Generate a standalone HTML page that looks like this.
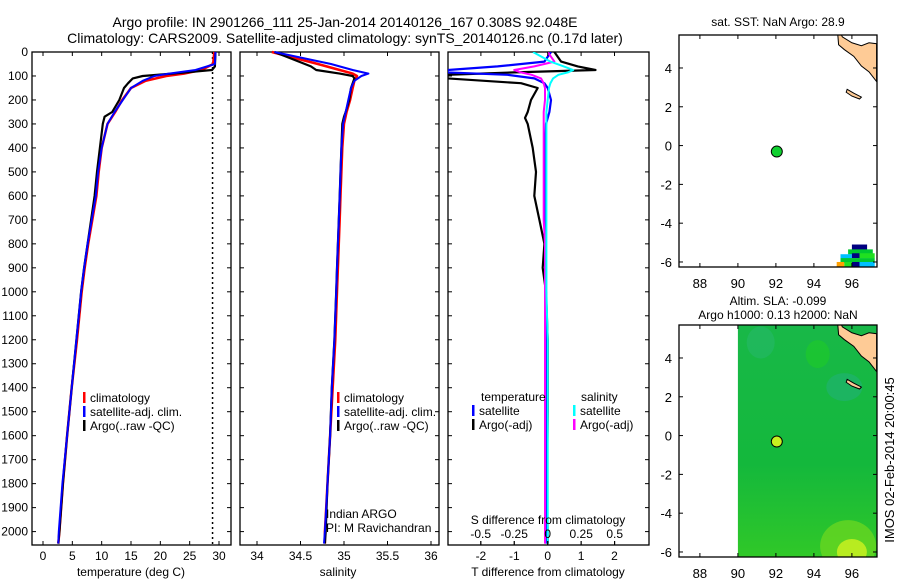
<!DOCTYPE html>
<html><head><meta charset="utf-8">
<style>
body{margin:0;background:#fff;}
svg{display:block;font-family:"Liberation Sans",sans-serif;}
text{fill:#000;}
</style></head>
<body>
<svg id="c" width="900" height="580" xmlns="http://www.w3.org/2000/svg">
<text x="345" y="27" font-size="14" text-anchor="middle">Argo profile: IN 2901266_111 25-Jan-2014 20140126_167 0.308S 92.048E</text>
<text x="345" y="43" font-size="14" text-anchor="middle">Climatology: CARS2009. Satellite-adjusted climatology: synTS_20140126.nc (0.17d later)</text>
<text transform="translate(894,460) rotate(-90)" font-size="13" text-anchor="middle">IMOS 02-Feb-2014 20:00:45</text>
</svg>
<script>
// ---- data ----
const depthsClim=[0,50,75,90,100,120,150,200,250,300,400,500,600,700,800,900,1000,1200,1400,1600,1800,2000,2050];
const tempClim=[29.2,29.0,27.0,24.0,21.0,17.5,15.0,13.5,12.3,11.0,10.0,9.5,9.1,8.4,7.7,7.1,6.6,5.8,4.9,4.1,3.4,2.8,2.6];
const tempSat=[29.4,29.3,26.0,21.5,19.0,17.0,15.0,13.6,12.2,11.0,10.0,9.4,9.0,8.3,7.6,7.0,6.5,5.7,4.9,4.1,3.3,2.7,2.6];
const depthsArgo=[0,60,75,90,100,110,130,150,200,250,270,300,400,500,600,700,800,900,1000,1200,1400,1600,1800,2000,2050];
const tempArgo=[29.4,29.3,28.8,22.0,17.0,15.3,14.5,13.8,13.0,11.8,10.5,10.2,9.7,9.2,8.8,8.2,7.6,7.0,6.5,5.7,4.9,4.1,3.4,2.8,2.6];
const salClim=[34.17,34.7,34.95,35.1,35.15,35.12,35.1,35.07,35.03,35.0,34.98,34.97,34.96,34.95,34.94,34.93,34.92,34.9,34.87,34.84,34.81,34.78,34.78];
const salSat=[34.2,34.85,35.1,35.28,35.2,35.12,35.08,35.05,35.02,34.99,34.97,34.96,34.95,34.94,34.93,34.92,34.91,34.89,34.86,34.84,34.81,34.78,34.77];
const salArgo=[34.2,34.62,34.68,34.95,35.1,35.12,35.1,35.08,35.06,35.02,35.0,34.98,34.97,34.96,34.95,34.94,34.93,34.92,34.91,34.89,34.86,34.84,34.81,34.79,34.78];
const depthsDiff=[0,40,60,75,85,95,110,130,150,200,250,275,300,400,500,600,700,800,900,1000,1200,1500,1800,2050];
const tDiffSat=[0.1,-0.1,-1.5,-3.0,-3.0,-1.2,-0.4,-0.1,0.0,0.1,0.05,0.0,-0.05,-0.08,-0.1,-0.1,-0.08,-0.07,-0.05,-0.05,-0.05,-0.05,-0.05,-0.05];
const tDiffArgo=[0.2,0.4,0.9,1.43,-1.0,-3.0,-3.0,-0.8,-0.3,-0.5,-0.6,-0.68,-0.6,-0.45,-0.35,-0.4,-0.25,-0.1,-0.15,-0.05,0.0,0.0,-0.02,0.0];
const sDiffSat=[-0.11,0.02,0.12,0.19,0.15,0.08,0.04,0.02,0.01,0.0,-0.01,-0.01,-0.01,-0.01,-0.01,-0.01,-0.01,-0.01,-0.01,-0.01,0.0,0.0,0.0,0.0];
const sDiffArgo=[0.0,0.05,-0.1,-0.25,-0.2,-0.12,-0.05,-0.03,-0.02,-0.02,-0.03,-0.03,-0.03,-0.03,-0.03,-0.03,-0.03,-0.02,-0.02,-0.02,-0.02,-0.02,-0.02,-0.02];
const depthTicks=[0,100,200,300,400,500,600,700,800,900,1000,1100,1200,1300,1400,1500,1600,1700,1800,1900,2000];
const tempTicks=[0,5,10,15,20,25,30];
const salTicks=[34,34.5,35,35.5,36];
const tdTicks=[-2,-1,0,1,2];
const sdTicks=[-0.5,-0.25,0,0.25,0.5];
const argoSST=28.9;
const lonTicks=[88,90,92,94,96];
const latTicks=[4,2,0,-2,-4,-6];
const argoLon=92.048, argoLat=-0.308;

const svg=document.getElementById('c');
const NS='http://www.w3.org/2000/svg';
function mk(tag,attrs,parent){const e=document.createElementNS(NS,tag);for(const k in attrs)e.setAttribute(k,attrs[k]);(parent||svg).appendChild(e);return e;}
function txt(x,y,s,size,anchor,parent){const t=mk('text',{x:x,y:y,'font-size':size,'text-anchor':anchor||'middle'},parent);t.textContent=s;return t;}

const TOP=52,BOT=545;
const yD=d=>52+d*0.2398;

function panel(name){
  const g=mk('g',{});
  
  
  return g;
}
function frame(g,x0,x1){
  const r=mk('rect',{x:x0,y:TOP,width:x1-x0,height:BOT-TOP,fill:'none',stroke:'#000','stroke-width':1.3},g);
  
  
  depthTicks.forEach(d=>{mk('line',{x1:x0,x2:x0+4,y1:yD(d),y2:yD(d),stroke:'#000'},g);mk('line',{x1:x1,x2:x1-4,y1:yD(d),y2:yD(d),stroke:'#000'},g);});
}
function line(g,xs,ds,fx,color,w,name){
  const pts=xs.map((v,i)=>fx(v).toFixed(1)+','+yD(ds[i]).toFixed(1)).join(' ');
  const p=mk('polyline',{points:pts,fill:'none',stroke:color,'stroke-width':w,'stroke-linejoin':'round'},g);
  
  
}
function legend(g,x,y,items){
  items.forEach((it,i)=>{
    mk('rect',{x:x,y:y+i*14-10,width:2.5,height:11,fill:it[1]},g);
    const t=txt(x+7,y+i*14,it[0],12,'start',g);
    
    
  });
}

// Panel 1 temperature
const xT=t=>43+t*5.867;
const g1=panel('temperature-panel');
frame(g1,32,231);
tempTicks.forEach(t=>{mk('line',{x1:xT(t),x2:xT(t),y1:BOT,y2:BOT-4,stroke:'#000'},g1);mk('line',{x1:xT(t),x2:xT(t),y1:TOP,y2:TOP+4,stroke:'#000'},g1);txt(xT(t),560,String(t),12,'middle',g1);});
depthTicks.forEach(d=>{txt(28,yD(d)+4,String(d),12,'end',g1);});
mk('line',{x1:xT(argoSST),x2:xT(argoSST),y1:TOP,y2:BOT,stroke:'#000','stroke-dasharray':'2,3','stroke-width':1.5},g1);
line(g1,tempClim,depthsClim,xT,'#f00',2.5,'temp-climatology');
line(g1,tempArgo,depthsArgo,xT,'#000',2.2,'temp-argo');
line(g1,tempSat,depthsClim,xT,'#00f',2,'temp-satellite');
legend(g1,83,402,[['climatology','#f00'],['satellite-adj. clim.','#00f'],['Argo(..raw -QC)','#000']]);
txt(131,576,'temperature (deg C)',12,'middle',g1);

// Panel 2 salinity
const xS=s=>257+(s-34)*87;
const g2=panel('salinity-panel');
frame(g2,240,439);
salTicks.forEach(s=>{mk('line',{x1:xS(s),x2:xS(s),y1:BOT,y2:BOT-4,stroke:'#000'},g2);mk('line',{x1:xS(s),x2:xS(s),y1:TOP,y2:TOP+4,stroke:'#000'},g2);txt(xS(s),560,String(s),12,'middle',g2);});
line(g2,salClim,depthsClim,xS,'#f00',2.5,'sal-climatology');
line(g2,salArgo,depthsArgo,xS,'#000',2.2,'sal-argo');
line(g2,salSat,depthsClim,xS,'#00f',2,'sal-satellite');
legend(g2,337,402,[['climatology','#f00'],['satellite-adj. clim.','#00f'],['Argo(..raw -QC)','#000']]);
txt(326,518,'Indian ARGO',12,'start',g2);
txt(326,532,'PI: M Ravichandran',12,'start',g2);
txt(338,576,'salinity',12,'middle',g2);

// Panel 3 differences
const xTD=t=>547.7+t*33.4;
const xSD=s=>547.7+s*134;
const g3=panel('difference-panel');
frame(g3,448,649);
const clip=mk('clipPath',{id:'cp3'},g3);mk('rect',{x:448,y:TOP,width:201,height:BOT-TOP},clip);
const g3c=mk('g',{'clip-path':'url(#cp3)'},g3);
tdTicks.forEach(t=>{mk('line',{x1:xTD(t),x2:xTD(t),y1:BOT,y2:BOT-4,stroke:'#000'},g3);mk('line',{x1:xTD(t),x2:xTD(t),y1:TOP,y2:TOP+4,stroke:'#000'},g3);txt(xTD(t),560,String(t),12,'middle',g3);});
sdTicks.forEach(s=>{mk('line',{x1:xSD(s),x2:xSD(s),y1:BOT,y2:BOT-4,stroke:'#000'},g3);txt(xSD(s),538,String(s),12,'middle',g3);});
line(g3c,tDiffArgo,depthsDiff,xTD,'#000',2.2,'tdiff-argo');
line(g3c,tDiffSat,depthsDiff,xTD,'#00f',2.2,'tdiff-satellite');
line(g3c,sDiffArgo,depthsDiff,xSD,'#f0f',2,'sdiff-argo');
line(g3c,sDiffSat,depthsDiff,xSD,'#0ff',2,'sdiff-satellite');
txt(481,401,'temperature',12,'start',g3);
txt(581,401,'salinity',12,'start',g3);
legend(g3,472,415,[['satellite','#00f'],['Argo(-adj)','#000']]);
legend(g3,573,415,[['satellite','#0ff'],['Argo(-adj)','#f0f']]);
txt(548,524,'S difference from climatology',12,'middle',g3);
txt(548,576,'T difference from climatology',12,'middle',g3);

// Maps
const LON0=86.9,LAT0=5.7;
function mapPanel(name,top,title1,title2,filled){
  const g=panel(name);
  const mx=lon=>679+(lon-LON0)*19.0;
  const my=lat=>top+(LAT0-lat)*19.4;
  const cid='cl'+top;
  const cp=mk('clipPath',{id:cid},g);mk('rect',{x:679,y:top,width:198,height:232},cp);
  const inner=mk('g',{'clip-path':'url(#'+cid+')'},g);
  if(filled){
    const grad=mk('linearGradient',{id:'gr'+top,x1:0,y1:0,x2:0,y2:1},g);
    mk('stop',{offset:'0','stop-color':'#18b848'},grad);mk('stop',{offset:'0.6','stop-color':'#14b83c'},grad);mk('stop',{offset:'1','stop-color':'#30c828'},grad);
    mk('rect',{x:mx(90),y:top,width:200,height:232,fill:'url(#gr'+top+')'},inner);
    mk('ellipse',{cx:mx(91.2),cy:my(4.8),rx:14,ry:16,fill:'#28b870',opacity:0.5},inner);
    mk('ellipse',{cx:mx(94.2),cy:my(4.2),rx:12,ry:14,fill:'#20d020',opacity:0.5},inner);
    mk('ellipse',{cx:mx(95.8),cy:my(-5.7),rx:28,ry:26,fill:'#70d820',opacity:0.7},inner);
    mk('ellipse',{cx:mx(96),cy:my(-6),rx:15,ry:13,fill:'#c8f020',opacity:0.85},inner);
    mk('ellipse',{cx:mx(95.6),cy:my(2.5),rx:18,ry:14,fill:'#22b080',opacity:0.5},inner);
  } else {
    const cols=['#000080','#00c0ff','#00c830','#ffa000','#20e020'];
    [[96,-5.1,0,0.8],[95.8,-5.35,2,1.3],[95.4,-5.6,1,0.6],[96,-5.55,0,0.4],[96.4,-5.55,4,0.8],[95.4,-5.8,2,1.8],[95.2,-6.0,3,0.4],[95.6,-6.0,4,0.4],[96,-6.0,0,0.4],[96.4,-6.0,1,0.8]].forEach(c=>{
      mk('rect',{x:mx(c[0]),y:my(c[1]),width:c[3]*19,height:5,fill:cols[c[2]]},inner);});
  }
  const land=[[95.25,5.8],[95.3,5.2],[95.6,4.95],[96.1,4.6],[96.5,4.1],[96.9,3.8],[97.3,3.3],[97.3,5.25],[96.9,5.3],[96.5,5.15],[96.0,5.3],[95.5,5.6],[95.4,5.8]];
  mk('polygon',{points:land.map(p=>mx(p[0])+','+my(p[1])).join(' '),fill:'#fecb96',stroke:'#000','stroke-width':1},inner);
  const isl=[[95.75,2.9],[96.1,2.7],[96.5,2.5],[96.4,2.4],[96.0,2.55],[95.7,2.75]];
  mk('polygon',{points:isl.map(p=>mx(p[0])+','+my(p[1])).join(' '),fill:'#fecb96',stroke:'#000','stroke-width':1},inner);
  mk('rect',{x:679,y:top,width:198,height:232,fill:'none',stroke:'#000','stroke-width':1.3},g);
  lonTicks.forEach(l=>{mk('line',{x1:mx(l),x2:mx(l),y1:top,y2:top+4,stroke:'#000'},g);mk('line',{x1:mx(l),x2:mx(l),y1:top+232,y2:top+228,stroke:'#000'},g);txt(mx(l),top+253,String(l),13,'middle',g);});
  latTicks.forEach(l=>{mk('line',{x1:679,x2:683,y1:my(l),y2:my(l),stroke:'#000'},g);mk('line',{x1:877,x2:873,y1:my(l),y2:my(l),stroke:'#000'},g);txt(672,my(l)+5,String(l),13,'end',g);});
  const dot=mk('circle',{cx:mx(argoLon),cy:my(argoLat),r:5.5,fill:filled?'#c8f020':'#10d030',stroke:'#000','stroke-width':1},g);
  
  
  if(title2){txt(778,top-20,title1,12,'middle',g);txt(778,top-6,title2,12,'middle',g);}
  else txt(778,top-9,title1,12,'middle',g);
}
mapPanel('sst-map',35,'sat. SST: NaN Argo: 28.9',null,false);
mapPanel('sla-map',325,'Altim. SLA: -0.099','Argo h1000: 0.13 h2000: NaN',true);
</script>
</body></html>
